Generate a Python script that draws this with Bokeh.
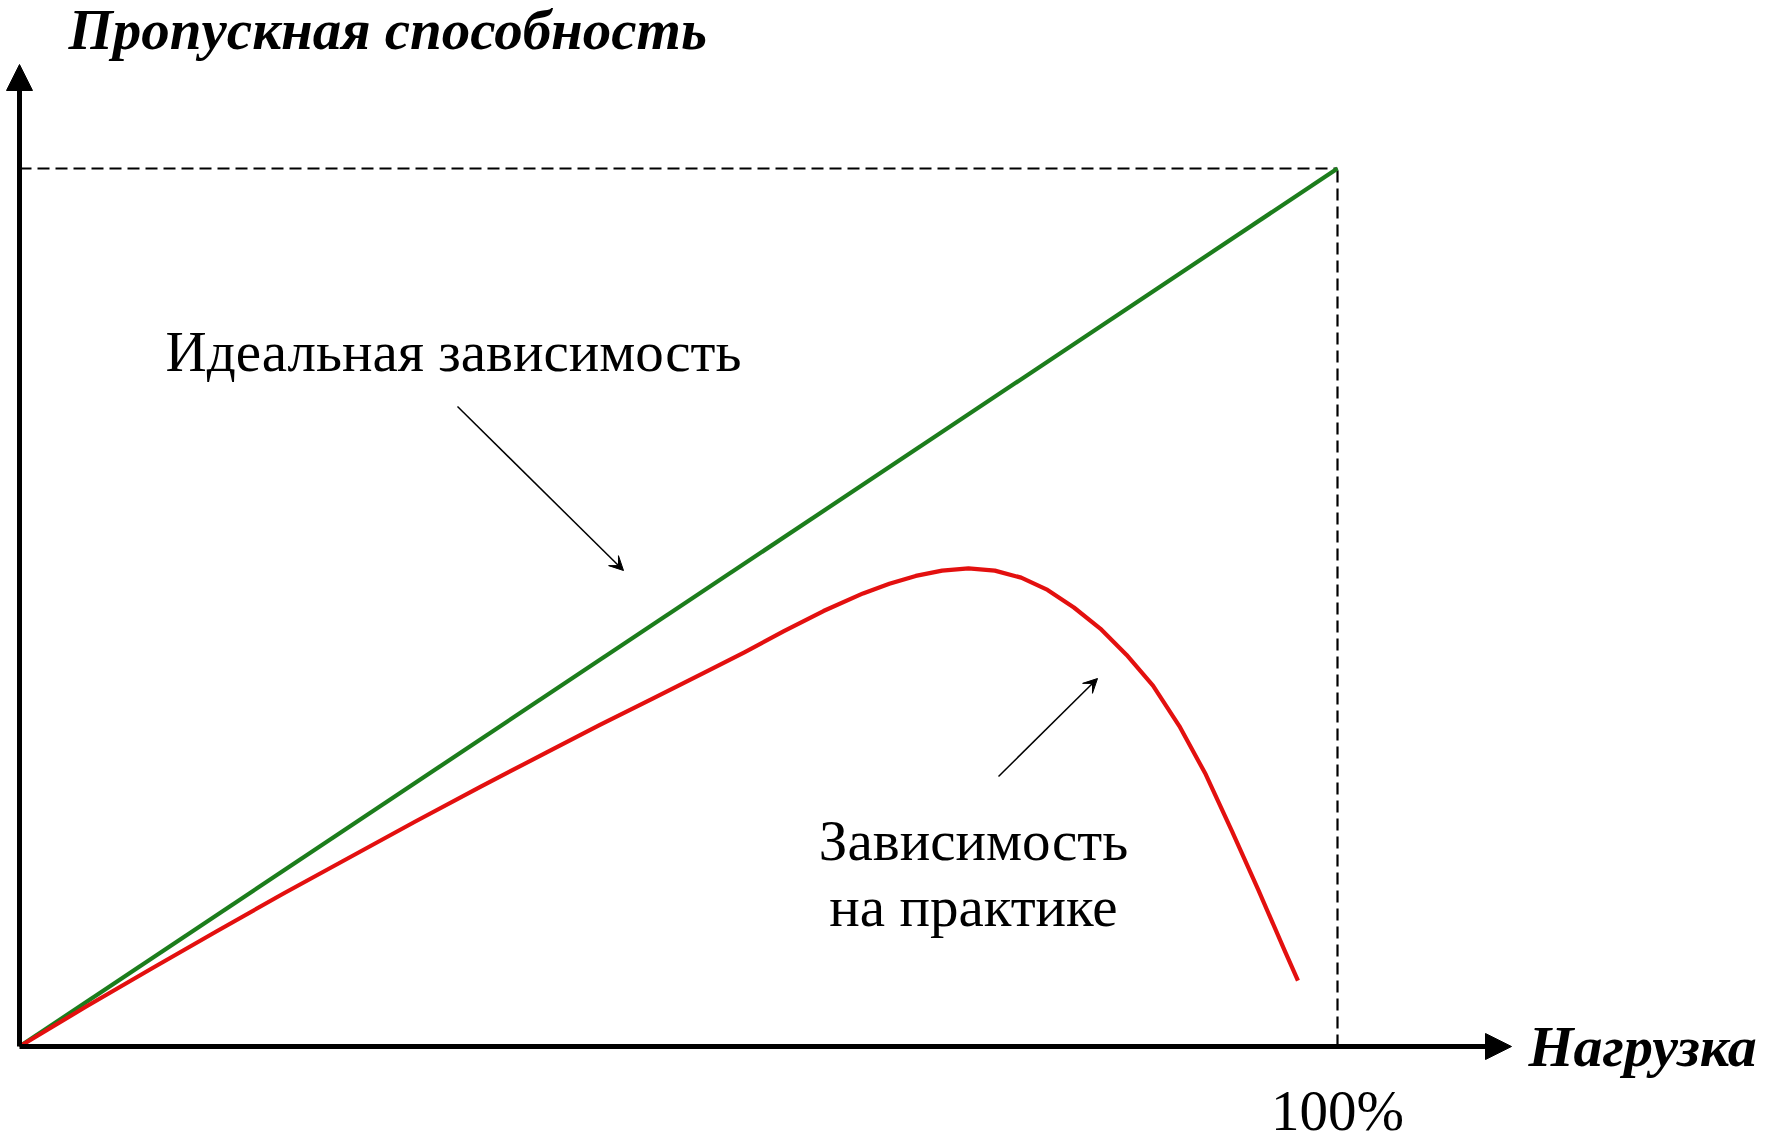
from bokeh.plotting import figure
from bokeh.models import Arrow, NormalHead, VeeHead, Label, Range1d
from bokeh.embed import file_html
from bokeh.resources import INLINE

# ---- data (load %, throughput %) ----
load_ideal = [0, 100]
thr_ideal = [0, 100]

load_real = [0, 5, 10, 15, 20, 25, 30, 35, 40, 44, 48, 52, 55, 58, 61, 64, 66, 68, 70,
             72, 74, 76, 78, 80, 82, 84, 86, 88, 90, 92, 94, 96, 97]
thr_real = [0, 4.5, 8.85, 13.15, 17.4, 21.5, 25.6, 29.6, 33.5, 36.6, 39.6, 42.6, 44.9, 47.3,
            49.6, 51.6, 52.7, 53.6, 54.2, 54.45, 54.2, 53.4, 52.0, 50.0, 47.6, 44.6, 41.1,
            36.5, 31.0, 24.5, 17.8, 10.9, 7.5]

y_title = "Пропускная способность"
x_title = "Нагрузка"
x_tick = "100%"
label_ideal = "Идеальная зависимость"
label_real = ["Зависимость", "на практике"]

# ---- layout (page pixels; the canvas sits at the page's top-left) ----
W, H = 1777, 1138
ox, oy = 19, 1046        # pixel of origin
fx, fy = 1337, 168       # pixel of (100, 100)
sx = (fx - ox) / 100.0
sy = (oy - fy) / 100.0
x0 = -ox / sx
x1 = x0 + W / sx
y0 = -(H - oy) / sy
y1 = y0 + H / sy


def d(X, Y):
    """page pixel -> data coords"""
    return ((X - ox) / sx, (oy - Y) / sy)


p = figure(width=W, height=H, x_range=Range1d(x0, x1), y_range=Range1d(y0, y1),
           output_backend="svg", toolbar_location=None, min_border=0,
           x_axis_location=None, y_axis_location=None,
           outline_line_color=None, background_fill_color="white",
           border_fill_color="white")
p.grid.visible = False

# dashed guides to the ideal end point
xe, ye = load_ideal[-1], thr_ideal[-1]
p.line([0, xe], [ye, ye], line_color="black", line_width=2.2, line_dash="12 6")
p.line([xe, xe], [0, ye], line_color="black", line_width=2.2, line_dash="12 6")

# curves
p.line(load_ideal, thr_ideal, line_color="#1c7d1c", line_width=4.2)
p.line(load_real, thr_real, line_color="#e3100f", line_width=4.2, line_join="round")

# axes
ytip = d(19, 64)
xtip = d(1511, 1046)
for tip in (ytip, xtip):
    p.add_layout(Arrow(x_start=0, y_start=0, x_end=tip[0], y_end=tip[1],
                       line_color="black", line_width=5,
                       end=NormalHead(size=26, fill_color="black", line_color="black", line_width=1)))

# annotation arrows
a1s, a1e = d(457, 406), d(623, 570)
a2s, a2e = d(998, 776), d(1097, 678)
for s, e in [(a1s, a1e), (a2s, a2e)]:
    p.add_layout(Arrow(x_start=s[0], y_start=s[1], x_end=e[0], y_end=e[1],
                       line_color="black", line_width=1.5,
                       end=VeeHead(size=14, fill_color="black", line_color="black", line_width=1)))

SERIF = "Liberation Serif"


def lab(pos, text, align="left", style="normal", size="57px"):
    p.add_layout(Label(x=pos[0], y=pos[1], text=text, text_font=SERIF,
                       text_font_size=size, text_font_style=style,
                       text_align=align, text_baseline="alphabetic",
                       text_color="black"))


lab(d(68, 29), y_title, "left", "bold italic", "57px")
lab(d(1528, 1046), x_title, "left", "bold italic", "58px")
lab(d(1337, 1110), x_tick, "center")
lab(d(453, 351), label_ideal, "center")
lab(d(973, 840), label_real[0], "center")
lab(d(973, 906), label_real[1], "center")

open("out.html", "w").write(file_html(p, INLINE))
